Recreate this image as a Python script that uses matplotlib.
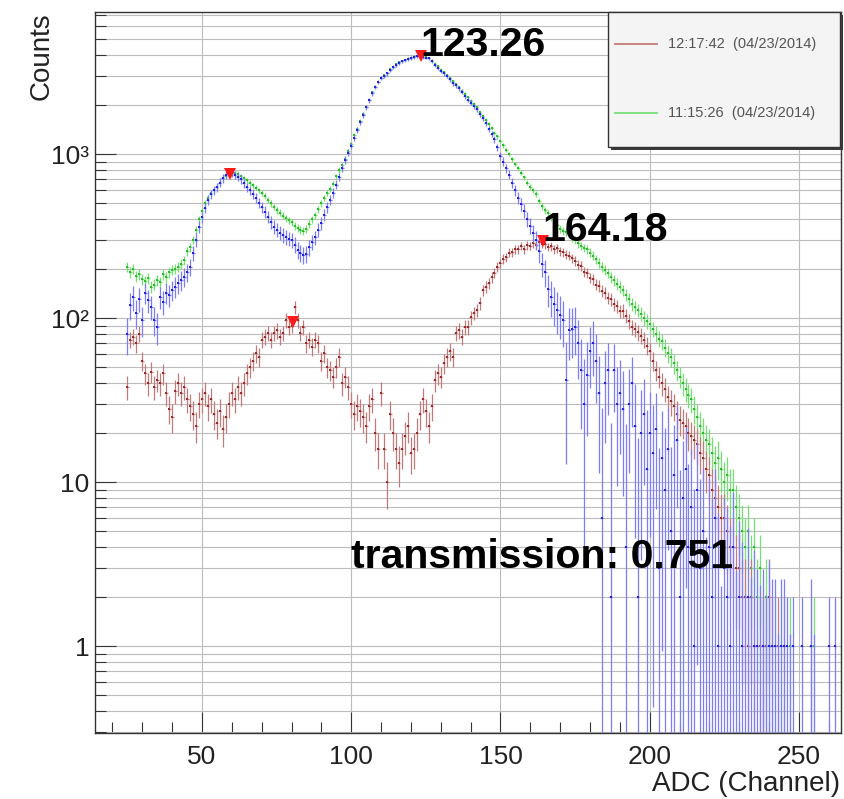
import numpy as np
import matplotlib
matplotlib.use('Agg')
import matplotlib.pyplot as plt
from matplotlib.ticker import FixedLocator, MultipleLocator, NullFormatter, LogLocator, FixedFormatter
from matplotlib.patches import Rectangle
from matplotlib.lines import Line2D

# ---------------- data (one value per ADC channel, starting at channel 25) ----------------
first_channel = 25

green_counts = [
    205, 190, 200, 180, 185, 172, 168, 175, 155, 160,      # 25-34
    170, 165, 185, 178, 190, 196, 200, 205, 215, 225,      # 35-44
    255, 270, 300, 345, 400, 450, 500, 540, 575, 600,      # 45-54
    630, 670, 710, 740, 760, 770, 765, 760, 730, 710,      # 55-64
    690, 665, 645, 625, 600, 580, 555, 525, 500, 475,      # 65-74
    455, 440, 420, 405, 395, 385, 365, 355, 345, 340,      # 75-84
    350, 375, 400, 425, 460, 500, 540, 580, 610, 660,      # 85-94
    730, 800, 860, 930, 1040, 1150, 1300, 1430, 1600, 1760,  # 95-104
    1950, 2150, 2380, 2580, 2750, 2920, 3020, 3130, 3280, 3400,  # 105-114
    3520, 3620, 3680, 3760, 3820, 3880, 3930, 3960, 3980, 3940,  # 115-124
    3900, 3860, 3720, 3560, 3420, 3270, 3150, 3030, 2900, 2780,  # 125-134
    2660, 2560, 2440, 2340, 2220, 2120, 2020, 1930, 1800, 1700,  # 135-144
    1620, 1530, 1440, 1350, 1280, 1200, 1130, 1060, 1000, 930,   # 145-154
    870, 820, 770, 720, 670, 630, 600, 570, 520, 480,      # 155-164
    455, 435, 410, 390, 370, 350, 340, 335, 325, 310,      # 165-174
    300, 285, 275, 268, 262, 250, 240, 228, 218, 205,      # 175-184
    197, 188, 178, 170, 162, 155, 148, 138, 130, 122,      # 185-194
    116, 112, 106, 100, 96, 92, 86, 80, 75, 72,            # 195-204
    66, 61, 58, 53, 48, 44, 40, 37, 34, 32,                # 205-214
    28, 25, 22, 20, 18, 17, 15, 13, 14, 12,                # 215-224
    10, 11, 9, 9, 7, 6, 5, 4, 5, 3,                        # 225-234
    4, 2, 3, 1, 2, 1, 0, 1, 0, 1,                          # 235-244
    0, 0, 1, 0, 0, 0, 0, 0, 0, 0,                          # 245-254
    1, 0, 0, 0, 0, 0, 0, 0,                                # 255-262
]

red_counts = [
    38, 74, 77, 70, 80, 55, 46, 40, 47, 38,                # 25-34
    42, 40, 46, 35, 28, 25, 36, 40, 35, 38,                # 35-44
    32, 29, 26, 22, 30, 32, 35, 29, 32, 26,                # 45-54
    23, 27, 21, 25, 30, 35, 32, 38, 35, 40,                # 55-64
    46, 50, 55, 61, 58, 74, 77, 81, 74, 81,                # 65-74
    84, 77, 81, 97, 88, 90, 117, 97, 81, 88,               # 75-84
    70, 74, 67, 74, 70, 55, 61, 50, 48, 44,                # 85-94
    50, 58, 40, 44, 38, 30, 26, 29, 27, 25,                # 95-104
    22, 29, 32, 20, 16, 35, 16, 10, 26, 20,                # 105-114
    16, 13, 16, 19, 22, 15, 16, 20, 26, 32,                # 115-124
    27, 22, 29, 42, 46, 44, 53, 58, 63, 58,                # 125-134
    81, 84, 77, 88, 88, 101, 107, 112, 123, 148,           # 135-144
    155, 163, 178, 188, 205, 216, 230, 235, 250, 252,      # 145-154
    262, 263, 275, 262, 278, 276, 285, 280, 292, 283,      # 155-164
    282, 272, 274, 262, 266, 256, 252, 244, 240, 232,      # 165-174
    224, 210, 207, 192, 188, 176, 172, 160, 157, 146,      # 175-184
    142, 133, 130, 121, 118, 110, 111, 103, 96, 88,        # 185-194
    86, 82, 78, 74, 68, 63, 55, 48, 44, 40,                # 195-204
    37, 33, 31, 29, 26, 24, 23, 22, 20, 19,                # 205-214
    18, 17, 15, 14, 12, 11, 9, 8, 7, 6,                    # 215-224
    6, 5, 4, 4, 3, 3, 2, 2, 1, 2,                          # 225-234
    1, 0, 1, 1, 1, 2, 1, 0, 1, 0,                          # 235-244
    1, 0, 0, 0, 0, 0, 0, 0, 0, 1,                          # 245-254
    0, 0, 0, 0, 0, 0, 0, 0,                                # 255-262
]

blue_counts = [
    80, 120, 134, 107, 131, 97, 142, 128, 117, 97,         # 25-34
    88, 134, 125, 142, 138, 148, 155, 163, 170, 178,       # 35-44
    190, 205, 250, 300, 360, 413, 470, 525, 570, 600,      # 45-54
    630, 670, 710, 745, 765, 770, 750, 725, 700, 665,      # 55-64
    630, 600, 570, 540, 505, 475, 445, 413, 385, 360,      # 65-74
    345, 330, 320, 312, 305, 300, 280, 260, 250, 242,      # 75-84
    245, 270, 290, 310, 345, 380, 425, 475, 525, 580,      # 85-94
    650, 725, 820, 920, 1020, 1120, 1260, 1400, 1560, 1730,  # 95-104
    1930, 2130, 2350, 2570, 2740, 2900, 3000, 3100, 3250, 3400,  # 105-114
    3500, 3600, 3670, 3730, 3800, 3850, 3900, 3940, 3960, 3920,  # 115-124
    3880, 3830, 3680, 3500, 3350, 3200, 3100, 3000, 2850, 2700,  # 125-134
    2620, 2520, 2400, 2250, 2150, 2050, 1960, 1870, 1750, 1650,  # 135-144
    1540, 1430, 1330, 1230, 1100, 980, 900, 820, 750, 670,       # 145-154
    600, 540, 495, 450, 400, 365, 330, 300, 255, 215,      # 155-164
    190, 150, 135, 122, 112, 105, 97, 42, 85, 86,          # 165-174
    88, 70, 48, 30, 45, 63, 70, 55, 35, 6,                 # 175-184
    40, 48, 2, 48, 30, 35, 28, 4, 30, 40,                  # 185-194
    22, 2, 20, 26, 12, 20, 15, 21, 3, 14,                  # 195-204
    9, 16, 5, 11, 18, 2, 8, 12, 4, 7,                      # 205-214
    1, 9, 3, 5, -2, 4, 2, 6, 1, -3,                        # 215-224
    3, 2, 1, 4, -1, 2, 1, -1, 2, 0,                        # 225-234
    1, 1, 0, 1, 0, 1, 1, 1, 0, 1,                          # 235-244
    1, 1, 0, 1, 0, 0, 1, 0, 0, 1,                          # 245-254
    0, 0, 0, 0, 0, 1, 0, 1,                                # 255-262
]

peak_x = [59.4, 80.4, 123.26, 164.18]
peak_y = [760, 95, 3960, 295]
labelled_peaks = [123.26, 164.18]
transmission = 0.751

legend_labels = ['12:17:42  (04/23/2014)', '11:15:26  (04/23/2014)']
x_ticks = [50, 100, 150, 200, 250]
y_ticks = [1, 10, 100, 1000]
y_tick_labels = ['1', '10', '10\u00b2', '10\u00b3']
x_label = 'ADC (Channel)'
y_label = 'Counts'

# ---------------- style ----------------
plt.rcParams['font.family'] = ['Liberation Sans', 'DejaVu Sans']

RED_LINE, RED_MARK = '#c47a7a', '#9e2b2b'
GREEN_LINE, GREEN_MARK = '#74e074', '#22c022'
BLUE_LINE, BLUE_MARK = '#7c7cff', '#2323e6'
BLUE_ERR_K = 1.4

W, H = 845, 799
fig = plt.figure(figsize=(W / 100, H / 100), dpi=100)
ax = fig.add_axes([95 / W, 1 - 733 / H, (841 - 95) / W, (733 - 12) / H])
ax.set_yscale('log')
YMIN, YMAX = 0.295, 7350
ax.set_xlim(14.15, 264.1)
ax.set_ylim(YMIN, YMAX)


def draw_hist(counts, errors, line_color, marker_color, z):
    c = np.asarray(counts, float)
    e = np.asarray(errors, float)
    ch = np.arange(first_channel, first_channel + len(c))
    show = (e > 0) & (c + e > YMIN)
    lo = np.maximum(c - e, YMIN * 0.5)
    hi = c + e
    ax.vlines(ch[show], lo[show], hi[show], colors=line_color, lw=0.9, zorder=z)
    pos = c > 0
    ax.hlines(c[pos], ch[pos] - 0.5, ch[pos] + 0.5, colors=line_color, lw=0.9, zorder=z)
    ax.plot(ch[pos], c[pos], 's', ms=1.7, color=marker_color, mew=0, zorder=z + 0.1)


g = np.asarray(green_counts, float)
r = np.asarray(red_counts, float)
b = np.asarray(blue_counts, float)

draw_hist(g, np.sqrt(g), GREEN_LINE, GREEN_MARK, 3)
draw_hist(r, np.sqrt(r), RED_LINE, RED_MARK, 4)
draw_hist(b, np.sqrt(BLUE_ERR_K * (g + r) + np.abs(b)), BLUE_LINE, BLUE_MARK, 5)

# peak markers
ax.plot(peak_x, peak_y, 'v', color='#ff1a1a', ms=8, mew=0, zorder=7)
for px, py in zip(peak_x, peak_y):
    if px in labelled_peaks:
        ax.text(px, py, f'{px:.2f}', ha='left', va='baseline', fontsize=29.5,
                fontweight='bold', color='black', zorder=8)

ax.text(100, 3.0, f'transmission: {transmission:.3f}', ha='left', va='baseline',
        fontsize=29.5, fontweight='bold', color='black', zorder=8)

# axes / ticks / grid
ax.xaxis.set_major_locator(FixedLocator(x_ticks))
ax.xaxis.set_minor_locator(MultipleLocator(10))
ax.yaxis.set_major_locator(FixedLocator(y_ticks))
ax.yaxis.set_major_formatter(FixedFormatter(y_tick_labels))
ax.yaxis.set_minor_locator(LogLocator(base=10, subs=range(2, 10), numticks=50))
ax.yaxis.set_minor_formatter(NullFormatter())
ax.tick_params(which='both', direction='in', top=False, right=False, width=0.8, color='#333333')
ax.tick_params(which='major', length=15)
ax.tick_params(which='minor', length=8)
ax.tick_params(axis='x', labelsize=19, pad=8.5, labelcolor='#222222')
ax.tick_params(axis='y', labelsize=19, pad=4, labelcolor='#222222')

ax.set_axisbelow(True)
ax.grid(True, which='major', axis='x', color='#bcbcbc', lw=0.8)
ax.grid(True, which='both', axis='y', color='#bcbcbc', lw=0.8)
for s in ax.spines.values():
    s.set_color('#333333')
    s.set_linewidth(1.0)

fig.text(840 / W, 1 - 784 / H, x_label, ha='right', va='center', fontsize=20, color='#222222')
fig.text(42 / W, 1 - 12 / H, y_label, ha='center', va='top', rotation=90, fontsize=20, color='#222222')

# legend (ROOT-style box with shadow)
fig.add_artist(Rectangle((611 / W, 1 - 150 / H), (843 - 611) / W, (150 - 15) / H,
                         transform=fig.transFigure, facecolor='#3a3a3a', edgecolor='none', zorder=9))
fig.add_artist(Rectangle((608 / W, 1 - 147 / H), (840 - 608) / W, (147 - 12) / H,
                         transform=fig.transFigure, facecolor='#f4f4f4', edgecolor='#333333',
                         lw=1.0, zorder=10))
for label, color, ypix in zip(legend_labels, [RED_LINE, GREEN_LINE], [44, 113]):
    fig.add_artist(Line2D([615 / W, 657 / W], [1 - ypix / H] * 2, transform=fig.transFigure,
                          color=color, lw=1.3, zorder=11))
    fig.text(668 / W, 1 - ypix / H, label, ha='left', va='center', fontsize=10.5,
             color='#555555', zorder=11)

fig.savefig('out.png', dpi=100)
